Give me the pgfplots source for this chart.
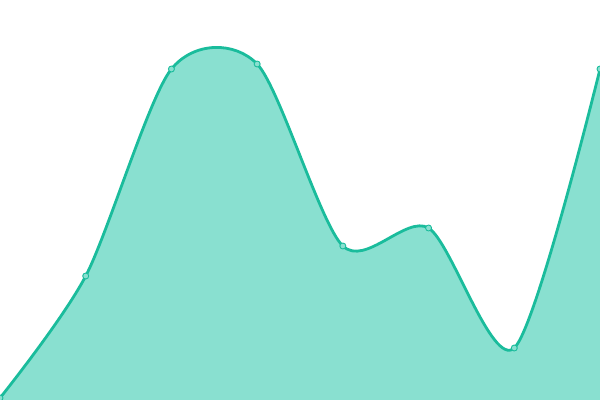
\documentclass[border=0pt]{standalone}
\usepackage{pgfplots}
\pgfplotsset{compat=1.18}
\definecolor{linec}{RGB}{26,188,156}
\definecolor{fillc}{RGB}{137,224,208}
\begin{document}
\begin{tikzpicture}
\begin{axis}[
    width=600bp, height=400bp, scale only axis,
    xmin=0, xmax=7, ymin=0, ymax=400,
    hide axis, clip marker paths=true,
]
\addplot[draw=none, fill=fillc, smooth, tension=0.47] coordinates {
    (0,2) (1,124) (2,331) (3,336) (4,154) (5,172) (6,52) (7,331)
} \closedcycle;
\addplot[linec, line width=2.8bp, smooth, tension=0.47,
    mark=*, mark size=3bp,
    mark options={fill=fillc, draw=linec, line width=0.9bp}] coordinates {
    (0,2) (1,124) (2,331) (3,336) (4,154) (5,172) (6,52) (7,331)
};
\end{axis}
\pgfresetboundingbox
\useasboundingbox (current axis.south west) rectangle (current axis.north east);
\end{tikzpicture}
\end{document}
